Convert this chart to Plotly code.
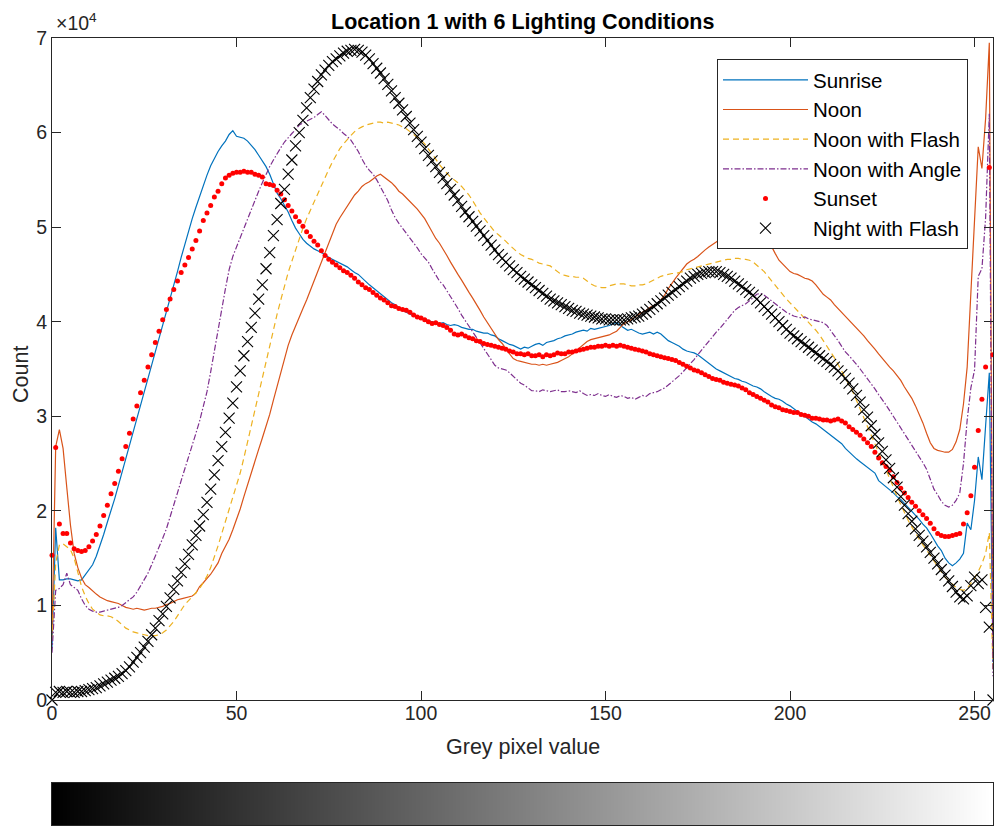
import plotly.graph_objects as go

# Grey-level histogram counts (in thousands of pixels) for each lighting condition
grey_levels = list(range(256))

sunrise_k = [
    5.5, 18.2, 12.7, 12.7, 12.8, 12.8, 12.7, 12.6, 12.7, 13.2, 13.8, 14.3, 15.2, 16.3, 17.5, 18.8,
    20.0, 21.3, 22.7, 24.1, 25.6, 27.0, 28.4, 29.8, 31.2, 32.6, 34.0, 35.4, 36.9, 38.3, 39.6, 40.9,
    42.3, 43.8, 45.3, 46.8, 48.2, 49.6, 50.9, 52.1, 53.3, 54.4, 55.5, 56.5, 57.3, 58.0, 58.6, 59.1,
    59.8, 60.2, 59.6, 59.5, 59.4, 59.1, 58.7, 58.2, 57.6, 57.0, 56.4, 55.6, 54.5, 53.6, 53.0, 52.3,
    51.6, 50.7, 49.9, 49.3, 48.7, 48.3, 48.0, 47.7, 47.5, 47.3, 47.1, 46.8, 46.6, 46.4, 46.2, 46.0,
    45.8, 45.5, 45.2, 45.0, 44.6, 44.2, 43.9, 43.6, 43.3, 43.0, 42.7, 42.4, 42.0, 41.8, 41.5, 41.2,
    41.0, 40.8, 40.6, 40.5, 40.4, 40.3, 40.1, 40.0, 39.9, 39.8, 39.9, 39.7, 39.6, 39.7, 39.6, 39.4,
    39.3, 39.2, 39.2, 39.0, 38.9, 38.8, 38.8, 38.6, 38.5, 38.2, 38.0, 37.8, 37.6, 37.5, 37.3, 37.1,
    37.3, 37.2, 37.4, 37.6, 37.7, 37.5, 37.8, 37.9, 38.0, 38.2, 38.3, 38.5, 38.6, 38.7, 38.9, 39.0,
    39.1, 39.0, 39.3, 39.2, 39.3, 39.4, 39.5, 39.6, 39.8, 39.9, 39.6, 39.3, 39.1, 39.2, 39.0, 38.8,
    38.7, 38.8, 38.9, 38.7, 38.9, 38.7, 38.4, 38.0, 37.8, 37.6, 37.4, 37.1, 36.9, 36.8, 36.7, 36.5,
    36.2, 35.9, 35.6, 35.3, 35.0, 34.8, 34.6, 34.4, 34.2, 34.0, 33.9, 33.7, 33.6, 33.4, 33.2, 33.1,
    32.9, 32.6, 32.3, 32.1, 31.9, 31.8, 31.6, 31.3, 31.1, 30.8, 30.5, 30.3, 30.0, 29.7, 29.4, 29.2,
    28.9, 28.6, 28.3, 28.0, 27.7, 27.4, 27.1, 26.6, 26.2, 25.8, 25.5, 25.2, 24.9, 24.6, 24.3, 24.0,
    23.2, 22.9, 22.6, 22.2, 21.9, 21.5, 21.2, 20.8, 20.4, 20.0, 19.5, 19.1, 18.6, 18.2, 17.6, 16.9,
    16.3, 15.8, 15.0, 14.5, 14.2, 14.5, 14.9, 15.5, 18.7, 18.0, 21.1, 25.7, 23.3, 29.0, 34.6, 4.0,
]

noon_k = [
    7.0, 26.8, 28.6, 26.6, 22.5, 18.5, 15.5, 14.0, 12.9, 12.2, 11.9, 11.5, 11.2, 10.9, 10.7, 10.5,
    10.4, 10.3, 10.2, 10.0, 9.8, 9.7, 9.6, 9.7, 9.6, 9.5, 9.6, 9.7, 9.7, 9.8, 9.9, 10.1,
    10.2, 10.4, 10.6, 10.7, 10.8, 10.9, 11.0, 11.3, 12.0, 12.4, 12.8, 13.3, 13.9, 14.5, 15.5, 16.3,
    17.0, 18.0, 19.0, 20.2, 21.5, 22.8, 24.0, 25.3, 26.5, 27.7, 28.9, 30.2, 31.7, 33.2, 34.8, 36.3,
    37.5, 38.6, 39.6, 40.5, 41.4, 42.3, 43.3, 44.3, 45.3, 46.4, 47.4, 48.5, 49.5, 50.3, 51.0, 51.6,
    52.3, 52.9, 53.4, 53.8, 54.3, 54.6, 54.8, 55.1, 55.4, 55.6, 55.3, 55.0, 54.7, 54.3, 53.8, 53.5,
    53.1, 52.8, 52.4, 51.9, 51.4, 50.9, 50.2, 49.5, 48.8, 48.3, 47.7, 47.0, 46.3, 45.6, 45.0, 44.4,
    43.7, 43.1, 42.5, 41.9, 41.2, 40.5, 39.9, 39.2, 38.6, 38.1, 37.7, 37.1, 36.6, 36.1, 35.9, 35.8,
    35.7, 35.6, 35.5, 35.5, 35.4, 35.5, 35.4, 35.5, 35.6, 35.7, 35.9, 36.1, 36.3, 36.6, 36.9, 37.3,
    37.6, 37.9, 38.1, 38.2, 38.3, 38.4, 38.5, 38.6, 38.8, 39.0, 39.4, 39.8, 40.0, 40.2, 40.5, 40.8,
    41.0, 41.2, 41.5, 41.7, 41.9, 42.3, 42.8, 43.5, 44.1, 44.6, 45.1, 45.6, 46.1, 46.4, 46.6, 46.9,
    47.3, 47.6, 47.9, 48.2, 48.5, 48.7, 48.9, 48.6, 48.8, 48.9, 48.7, 48.8, 48.9, 49.0, 49.1, 49.2,
    49.4, 49.6, 48.7, 47.9, 47.2, 46.5, 46.1, 45.7, 45.3, 45.1, 45.0, 44.8, 44.6, 44.5, 44.3, 43.9,
    43.4, 42.9, 42.6, 42.3, 41.8, 41.4, 41.0, 40.6, 40.2, 39.8, 39.4, 39.0, 38.5, 38.0, 37.6, 37.1,
    36.6, 36.1, 35.7, 35.2, 34.8, 34.3, 33.8, 33.1, 32.5, 31.9, 31.1, 30.2, 29.3, 28.2, 27.2, 26.6,
    26.4, 26.3, 26.2, 26.2, 26.5, 27.3, 28.6, 31.3, 35.2, 43.0, 50.5, 58.5, 56.2, 61.5, 69.5, 4.5,
]

noon_flash_k = [
    6.3, 14.5, 16.4, 16.5, 16.2, 15.9, 15.0, 13.6, 12.0, 11.0, 10.2, 9.6, 9.3, 9.0, 8.9, 8.9,
    8.8, 8.6, 8.3, 7.9, 7.6, 7.4, 7.2, 7.1, 7.0, 6.9, 6.8, 6.8, 6.8, 6.9, 7.1, 7.4,
    7.8, 8.3, 8.9, 9.5, 10.1, 10.5, 10.9, 11.3, 11.8, 12.4, 13.1, 14.0, 15.1, 16.3, 17.6, 18.9,
    20.2, 21.4, 22.6, 24.0, 25.6, 27.3, 29.0, 30.7, 32.3, 34.0, 35.8, 37.6, 39.3, 40.8, 42.3, 43.8,
    45.2, 46.4, 47.6, 48.8, 49.9, 50.9, 51.8, 52.6, 53.5, 54.4, 55.3, 56.1, 56.9, 57.6, 58.3, 58.8,
    59.3, 59.7, 60.1, 60.4, 60.6, 60.8, 60.9, 61.0, 61.1, 61.1, 61.0, 61.1, 61.0, 60.9, 60.8, 60.6,
    60.4, 60.1, 59.8, 59.5, 59.2, 58.8, 58.3, 57.8, 57.2, 56.6, 56.1, 55.7, 55.3, 55.0, 54.7, 54.3,
    53.9, 53.4, 52.8, 52.1, 51.5, 51.0, 50.5, 50.0, 49.5, 49.2, 48.9, 48.5, 48.1, 47.7, 47.4, 47.1,
    46.9, 46.7, 46.6, 46.4, 46.2, 46.1, 46.0, 45.9, 45.6, 45.3, 45.0, 44.9, 44.8, 44.8, 44.7, 44.7,
    44.6, 44.3, 44.0, 43.8, 43.7, 43.6, 43.6, 43.8, 43.9, 44.0, 44.0, 44.0, 43.9, 43.8, 43.8, 43.9,
    43.9, 44.0, 44.2, 44.4, 44.6, 44.8, 44.9, 45.0, 45.1, 45.1, 45.2, 45.3, 45.5, 45.6, 45.7, 45.8,
    45.9, 46.0, 46.1, 46.2, 46.3, 46.4, 46.5, 46.6, 46.6, 46.7, 46.7, 46.6, 46.6, 46.5, 46.3, 46.0,
    45.7, 45.3, 44.8, 44.3, 43.8, 43.3, 42.8, 42.4, 42.0, 41.6, 41.2, 40.8, 40.4, 40.0, 39.6, 39.1,
    38.6, 38.0, 37.5, 36.9, 36.2, 35.5, 34.8, 34.1, 33.4, 32.6, 31.7, 30.7, 29.8, 28.9, 28.0, 27.1,
    26.2, 25.3, 24.4, 23.5, 22.5, 21.5, 20.6, 19.8, 19.0, 18.3, 17.6, 17.0, 16.4, 15.9, 15.3, 14.7,
    14.1, 13.5, 13.0, 12.6, 12.2, 11.9, 11.7, 11.6, 11.8, 12.3, 12.9, 13.6, 14.4, 15.5, 17.7, 3.0,
]

noon_angle_k = [
    5.0, 11.6, 11.8, 12.2, 13.4, 12.2, 11.9, 11.6, 10.7, 10.0, 9.6, 9.4, 9.3, 9.3, 9.4, 9.5,
    9.6, 9.7, 9.8, 10.0, 10.3, 10.6, 10.9, 11.4, 12.1, 12.8, 13.4, 14.3, 15.2, 16.2, 17.1, 18.1,
    19.3, 20.6, 21.9, 23.2, 24.4, 25.6, 26.9, 28.2, 29.5, 31.0, 32.6, 34.7, 37.0, 39.2, 41.4, 43.5,
    45.5, 46.9, 47.9, 48.9, 50.0, 51.0, 51.9, 52.8, 53.8, 54.7, 55.6, 56.4, 57.1, 57.8, 58.4, 59.0,
    59.5, 59.9, 60.3, 60.8, 61.0, 61.2, 61.4, 61.6, 61.9, 62.2, 61.8, 61.3, 60.9, 60.6, 60.3, 59.9,
    59.6, 59.2, 58.6, 58.0, 57.2, 56.5, 56.0, 55.6, 55.0, 54.3, 53.6, 52.8, 51.8, 51.0, 50.4, 49.9,
    49.4, 48.9, 48.4, 47.8, 47.2, 46.8, 46.3, 45.6, 44.9, 44.3, 43.9, 43.3, 42.7, 42.0, 41.4, 40.7,
    40.1, 39.5, 38.9, 38.4, 37.8, 37.1, 36.5, 35.9, 35.4, 35.1, 35.0, 34.9, 34.6, 34.2, 33.8, 33.5,
    33.3, 33.0, 32.7, 32.7, 32.6, 32.8, 32.7, 32.6, 32.7, 32.8, 32.6, 32.6, 32.7, 32.6, 32.5, 32.7,
    32.4, 32.2, 32.3, 32.2, 32.4, 32.2, 32.1, 32.3, 32.1, 32.0, 32.2, 32.1, 31.9, 32.0, 31.8, 32.0,
    32.2, 32.1, 32.4, 32.5, 32.6, 32.8, 33.0, 33.3, 33.6, 34.0, 34.3, 34.7, 35.1, 35.5, 36.0, 36.5,
    37.0, 37.5, 38.0, 38.5, 38.9, 39.3, 39.8, 40.3, 40.8, 41.2, 41.5, 41.7, 41.9, 42.2, 42.6, 42.9,
    43.0, 42.8, 42.5, 42.2, 41.9, 41.6, 41.3, 41.0, 40.8, 40.6, 40.5, 40.4, 40.5, 40.3, 40.2, 40.1,
    40.0, 39.9, 39.6, 39.1, 38.6, 38.0, 37.4, 36.8, 36.4, 36.0, 35.5, 35.0, 34.5, 34.0, 33.4, 32.9,
    32.3, 31.8, 31.2, 30.6, 30.0, 29.4, 28.8, 28.2, 27.6, 27.0, 26.4, 25.8, 25.1, 24.4, 23.4, 22.3,
    21.7, 21.0, 20.6, 20.4, 20.6, 21.1, 21.9, 25.0, 29.6, 33.0, 34.9, 44.8, 45.6, 51.0, 62.0, 2.5,
]

sunset_k = [
    15.3, 26.7, 18.6, 17.6, 17.6, 16.6, 16.0, 15.8, 15.7, 15.8, 16.2, 16.8, 17.5, 18.4, 19.5, 20.6,
    21.8, 22.9, 24.2, 25.5, 26.8, 28.2, 29.7, 31.1, 32.5, 33.8, 35.2, 36.5, 37.8, 39.0, 40.2, 41.3,
    42.4, 43.4, 44.3, 45.2, 46.0, 46.8, 47.7, 48.6, 49.6, 50.7, 51.5, 52.3, 53.2, 53.8, 54.6, 55.2,
    55.5, 55.7, 55.8, 55.8, 55.9, 55.8, 55.8, 55.6, 55.5, 55.3, 54.6, 54.5, 54.4, 53.9, 53.5, 52.9,
    52.3, 51.7, 51.1, 50.6, 50.1, 49.5, 49.0, 48.5, 48.1, 47.5, 47.0, 46.6, 46.3, 46.0, 45.7, 45.4,
    45.2, 44.9, 44.6, 44.2, 43.9, 43.6, 43.4, 43.1, 42.8, 42.5, 42.3, 42.0, 41.7, 41.6, 41.4, 41.3,
    41.2, 41.0, 40.7, 40.5, 40.4, 40.2, 40.0, 39.8, 39.9, 39.7, 39.6, 39.4, 39.1, 38.7, 38.6, 38.7,
    38.5, 38.3, 38.2, 38.0, 37.9, 37.7, 37.6, 37.5, 37.4, 37.3, 37.2, 37.1, 36.9, 36.8, 36.6, 36.6,
    36.5, 36.6, 36.4, 36.4, 36.5, 36.3, 36.5, 36.4, 36.5, 36.7, 36.6, 36.6, 36.8, 36.8, 36.9, 37.0,
    37.1, 37.2, 37.3, 37.3, 37.4, 37.4, 37.5, 37.4, 37.5, 37.4, 37.5, 37.4, 37.3, 37.2, 37.1, 37.0,
    36.9, 36.8, 36.6, 36.5, 36.4, 36.3, 36.2, 36.1, 36.0, 35.9, 35.7, 35.5, 35.3, 35.1, 34.9, 34.8,
    34.6, 34.4, 34.2, 34.0, 33.9, 33.8, 33.6, 33.5, 33.4, 33.3, 33.2, 33.0, 32.8, 32.5, 32.3, 32.1,
    31.9, 31.7, 31.5, 31.2, 31.0, 30.9, 30.7, 30.6, 30.5, 30.4, 30.4, 30.2, 30.1, 30.0, 29.8, 29.8,
    29.7, 29.6, 29.6, 29.5, 29.6, 29.7, 29.5, 29.3, 28.9, 28.6, 28.3, 28.0, 27.6, 27.2, 26.8, 26.2,
    25.6, 25.1, 24.7, 24.3, 23.6, 23.0, 22.4, 21.9, 21.4, 20.9, 20.5, 20.0, 19.6, 19.2, 18.7, 18.1,
    17.6, 17.4, 17.3, 17.3, 17.4, 17.5, 17.6, 18.6, 19.8, 21.6, 24.6, 28.5, 31.8, 35.2, 56.3, 36.5,
]

night_flash_k = [
    0.0, 0.8, 0.9, 0.8, 0.9, 0.8, 0.8, 0.9, 0.9, 1.0, 1.1, 1.2, 1.3, 1.5, 1.7, 1.9,
    2.1, 2.3, 2.5, 2.8, 3.1, 3.5, 4.0, 4.5, 5.0, 5.6, 6.2, 6.9, 7.6, 8.4, 9.1, 9.9,
    10.8, 11.7, 12.6, 13.5, 14.4, 15.4, 16.4, 17.4, 18.4, 19.6, 20.9, 22.3, 23.8, 25.3, 26.8, 28.3,
    29.8, 31.4, 33.1, 34.8, 36.4, 37.9, 39.4, 40.9, 42.4, 43.9, 45.6, 47.3, 49.1, 50.8, 52.5, 54.0,
    55.6, 57.1, 58.6, 60.0, 61.3, 62.6, 63.7, 64.6, 65.4, 66.1, 66.6, 67.1, 67.5, 67.8, 68.1, 68.4,
    68.6, 68.7, 68.8, 68.7, 68.5, 68.2, 67.8, 67.3, 66.8, 66.3, 65.7, 65.1, 64.4, 63.7, 63.1, 62.4,
    61.7, 61.0, 60.3, 59.6, 59.0, 58.3, 57.6, 57.0, 56.4, 55.8, 55.2, 54.6, 54.0, 53.4, 52.8, 52.2,
    51.6, 51.1, 50.6, 50.1, 49.6, 49.1, 48.6, 48.1, 47.6, 47.1, 46.7, 46.3, 45.9, 45.5, 45.2, 44.8,
    44.5, 44.2, 43.9, 43.6, 43.3, 43.0, 42.7, 42.4, 42.2, 42.0, 41.8, 41.6, 41.4, 41.2, 41.1, 40.9,
    40.8, 40.7, 40.6, 40.5, 40.4, 40.3, 40.3, 40.2, 40.2, 40.2, 40.2, 40.2, 40.3, 40.4, 40.5, 40.6,
    40.8, 41.0, 41.3, 41.6, 41.9, 42.2, 42.5, 42.8, 43.1, 43.4, 43.7, 44.0, 44.3, 44.6, 44.8, 45.0,
    45.1, 45.2, 45.3, 45.3, 45.3, 45.2, 45.0, 44.8, 44.6, 44.3, 44.0, 43.7, 43.4, 43.1, 42.8, 42.4,
    42.0, 41.6, 41.2, 40.8, 40.4, 40.0, 39.6, 39.2, 38.8, 38.5, 38.2, 37.9, 37.6, 37.3, 37.0, 36.7,
    36.4, 36.1, 35.8, 35.5, 35.2, 34.8, 34.4, 34.0, 33.5, 32.9, 32.2, 31.5, 30.7, 29.9, 29.0, 28.1,
    27.2, 26.3, 25.4, 24.5, 23.5, 22.5, 21.5, 20.6, 19.7, 18.9, 18.1, 17.4, 16.8, 16.2, 15.6, 15.0,
    14.4, 13.8, 13.2, 12.6, 12.0, 11.4, 10.9, 10.7, 11.0, 12.1, 13.0, 12.3, 12.7, 9.8, 7.7, 0.0,
]

x_ticks = [0, 50, 100, 150, 200, 250]
y_tick_values = [0, 10000, 20000, 30000, 40000, 50000, 60000, 70000]
y_tick_labels = ["0", "1", "2", "3", "4", "5", "6", "7"]

for name, arr in [("sunrise", sunrise_k), ("noon", noon_k), ("flash", noon_flash_k),
                  ("angle", noon_angle_k), ("sunset", sunset_k), ("night", night_flash_k)]:
    assert len(arr) == 256, f"{name}: {len(arr)}"


def counts(values_k):
    return [v * 1000 for v in values_k]


FONT = "Liberation Sans, Arial, Helvetica, sans-serif"
AXIS_GREY = "#262626"

fig = go.Figure()

fig.add_trace(go.Scatter(
    x=grey_levels, y=counts(sunrise_k), name="Sunrise", mode="lines",
    line=dict(color="#0072BD", width=1.2), legendgroup="g1"))
fig.add_trace(go.Scatter(
    x=grey_levels, y=counts(noon_k), name="Noon", mode="lines",
    line=dict(color="#D95319", width=1.2), legendgroup="g2"))
fig.add_trace(go.Scatter(
    x=grey_levels, y=counts(noon_flash_k), name="Noon with Flash", mode="lines",
    line=dict(color="#EDB120", width=1.2, dash="6px,4px"), legendgroup="g3"))
fig.add_trace(go.Scatter(
    x=grey_levels, y=counts(noon_angle_k), name="Noon with Angle", mode="lines",
    line=dict(color="#7E2F8E", width=1.2, dash="6px,2px,1.5px,2px"), legendgroup="g4"))
fig.add_trace(go.Scatter(
    x=grey_levels, y=counts(sunset_k), name="Sunset", mode="markers",
    marker=dict(color="#FF0000", size=5, symbol="circle", line=dict(width=0)),
    cliponaxis=False, legendgroup="g5"))
fig.add_trace(go.Scatter(
    x=grey_levels, y=counts(night_flash_k), name="Night with Flash", mode="markers",
    marker=dict(symbol="x-thin", size=11, color="black", line=dict(width=1.1, color="black")),
    cliponaxis=False, legendgroup="g6"))

# Grey-level reference strip beneath the axes
fig.add_trace(go.Heatmap(
    z=[grey_levels], x=grey_levels, y=[0], xaxis="x2", yaxis="y2",
    colorscale=[[0, "#000000"], [1, "#ffffff"]], zmin=0, zmax=255,
    showscale=False, hoverinfo="skip", showlegend=False))

W, H = 994, 827
ML, MR, MT, MB = 52, 1, 38, 2
plot_w = W - ML - MR
plot_h = H - MT - MB


def px_x(px):
    return (px - ML) / plot_w


def px_y(py):
    return (H - MB - py) / plot_h


tick_font = dict(family=FONT, size=19.5, color=AXIS_GREY)

fig.update_layout(
    width=W, height=H,
    margin=dict(l=ML, r=MR, t=MT, b=MB, pad=0, autoexpand=False),
    paper_bgcolor="white", plot_bgcolor="white",
    xaxis=dict(
        domain=[0, 1], anchor="y", range=[0, 255], tickvals=x_ticks,
        ticks="inside", ticklen=9, tickwidth=1, tickcolor=AXIS_GREY,
        showline=True, linecolor=AXIS_GREY, linewidth=1, mirror="ticks",
        showgrid=False, zeroline=False, tickfont=tick_font,
        ticklabelstandoff=-4, automargin=False),
    yaxis=dict(
        domain=[px_y(700), 1], anchor="x", range=[0, 70000],
        tickvals=y_tick_values, ticktext=y_tick_labels,
        ticks="inside", ticklen=9, tickwidth=1, tickcolor=AXIS_GREY,
        showline=True, linecolor=AXIS_GREY, linewidth=1, mirror="ticks",
        showgrid=False, zeroline=False, tickfont=tick_font, automargin=False),
    xaxis2=dict(
        domain=[0, 1], anchor="y2", range=[-0.5, 255.5],
        showticklabels=False, ticks="", showgrid=False, zeroline=False,
        showline=True, mirror=True, linecolor=AXIS_GREY, linewidth=1, automargin=False),
    yaxis2=dict(
        domain=[0, px_y(783)], anchor="x2", range=[-0.5, 0.5],
        showticklabels=False, ticks="", showgrid=False, zeroline=False,
        showline=True, mirror=True, linecolor=AXIS_GREY, linewidth=1, automargin=False),
    legend=dict(
        x=px_x(717), y=px_y(59), xanchor="left", yanchor="top",
        bgcolor="white", bordercolor=AXIS_GREY, borderwidth=1,
        font=dict(family=FONT, size=20.5, color="black"),
        itemwidth=85, traceorder="grouped", tracegroupgap=0),
    annotations=[
        dict(text="<b>Location 1 with 6 Lighting Conditions</b>", x=0.5, y=px_y(22),
             xref="paper", yref="paper", showarrow=False, xanchor="center", yanchor="middle",
             font=dict(family=FONT, size=21.5, color="black")),
        dict(text="Grey pixel value", x=0.5, y=px_y(747),
             xref="paper", yref="paper", showarrow=False, xanchor="center", yanchor="middle",
             font=dict(family=FONT, size=21.5, color=AXIS_GREY)),
        dict(text="Count", x=px_x(21), y=px_y(375), textangle=-90,
             xref="paper", yref="paper", showarrow=False, xanchor="center", yanchor="middle",
             font=dict(family=FONT, size=21.5, color=AXIS_GREY)),
        dict(text="\u00d710<sup>4</sup>", x=px_x(54), y=px_y(22),
             xref="paper", yref="paper", showarrow=False, xanchor="left", yanchor="middle",
             font=dict(family=FONT, size=19.5, color=AXIS_GREY)),
    ],
)

fig.write_html("out.html")
